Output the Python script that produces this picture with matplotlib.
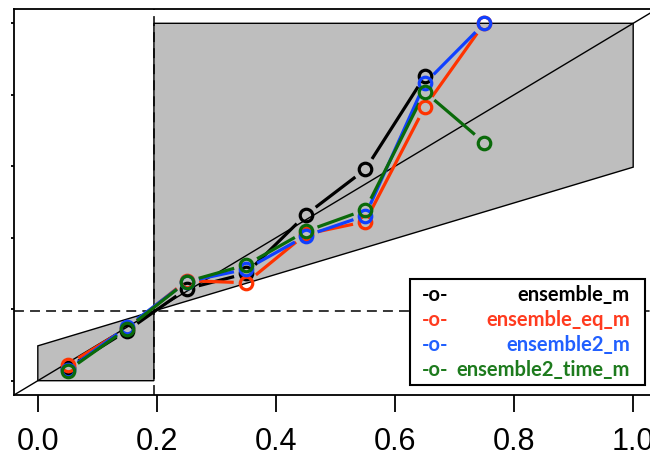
import numpy as np
import matplotlib
matplotlib.use("Agg")
import matplotlib.pyplot as plt
from matplotlib.patches import Polygon, Rectangle
from matplotlib.lines import Line2D

# ---------------- data ----------------
bins = [0.05, 0.15, 0.25, 0.35, 0.45, 0.55, 0.65, 0.75]
ensemble_m       = [0.036, 0.140, 0.257, 0.300, 0.464, 0.591, 0.852, np.nan]
ensemble_eq_m    = [0.045, 0.147, 0.280, 0.274, 0.410, 0.445, 0.766, 1.000]
ensemble2_m      = [0.030, 0.151, 0.277, 0.312, 0.405, 0.462, 0.832, 1.000]
ensemble2_time_m = [0.028, 0.146, 0.277, 0.324, 0.418, 0.478, 0.808, 0.666]
clim = 0.195
xticks = [0.0, 0.2, 0.4, 0.6, 0.8, 1.0]
xticklabels = ["0.0", "0.2", "0.4", "0.6", "0.8", "1.0"]
yticks = [0.0, 0.2, 0.4, 0.6, 0.8, 1.0]
series_names = ["ensemble_m", "ensemble_eq_m", "ensemble2_m", "ensemble2_time_m"]
series_vals = [ensemble_m, ensemble_eq_m, ensemble2_m, ensemble2_time_m]
line_colors = ["#000000", "#FF3300", "#1040FF", "#0A6A0A"]
text_colors = ["#000000", "#FF3B1F", "#2160FF", "#1E7B1E"]

# ---------------- figure ----------------
W, H, DPI = 650, 459, 100
fig = plt.figure(figsize=(W / DPI, H / DPI), dpi=DPI)
L, R, B, T = 14, 657, 395, 9
ax = fig.add_axes([L / W, 1 - B / H, (R - L) / W, (B - T) / H])
ax.set_xlim(-0.04, 1.04)
ax.set_ylim(-0.04, 1.04)

# no-skill polygon
poly = Polygon([(0, 0), (clim, 0), (clim, 1), (1, 1), (1, (1 + clim) / 2), (0, clim / 2)],
               closed=True, facecolor="#BEBEBE", edgecolor="black", lw=1.0, zorder=1)
ax.add_patch(poly)
ax.axline((0, 0), (1, 1), color="black", lw=1.0, zorder=2)
ax.axhline(clim, color="black", lw=1.1, ls=(0, (6.5, 4)), zorder=2)
ax.axvline(clim, color="black", lw=1.1, ls=(0, (6.5, 4)), zorder=2)

# lines with gaps (type = "b")
fig.canvas.draw()
gap = 12.5
for vals, col in zip(series_vals, line_colors):
    x = np.array(bins, dtype=float)
    y = np.array(vals, dtype=float)
    pts = ax.transData.transform(np.column_stack([x, y]))
    for i in range(len(x) - 1):
        if np.isnan(y[i]) or np.isnan(y[i + 1]):
            continue
        p0, p1 = pts[i], pts[i + 1]
        d = p1 - p0
        n = np.hypot(*d)
        if n <= 2 * gap:
            continue
        u = d / n
        a = p0 + u * gap
        b = p1 - u * gap
        da = ax.transData.inverted().transform(np.vstack([a, b]))
        ax.add_line(Line2D(da[:, 0], da[:, 1], color=col, lw=2.3,
                           solid_capstyle="butt", zorder=3))
    ax.plot(x, y, ls="none", marker="o", ms=9, mfc="none", mec=col, mew=2.3, zorder=4)

# axes styling
for s in ax.spines.values():
    s.set_linewidth(1.3)
ax.set_xticks(xticks)
ax.set_xticklabels(xticklabels, fontfamily="Liberation Sans", fontsize=22)
ax.tick_params(axis="x", length=12, width=1.3, pad=11, direction="out")
ax.set_yticks(yticks)
ax.set_yticklabels([])
ax.tick_params(axis="y", length=2.2, width=1.3, direction="out")

# legend (manual)
lx0, lx1, ly0, ly1 = 410, 645, 279, 385
fig.add_artist(Rectangle((lx0 / W, 1 - ly1 / H), (lx1 - lx0) / W, (ly1 - ly0) / H,
                         transform=fig.transFigure, facecolor="white",
                         edgecolor="black", lw=1.5, zorder=10))
rows = [295, 320, 345, 370]
for name, tc, ry in zip(series_names, text_colors, rows):
    fig.text(435 / W, 1 - ry / H, "-o-", color=tc, ha="center", va="center",
             fontfamily="Lato", fontweight="bold", fontsize=14.5, zorder=11)
    fig.text(630 / W, 1 - ry / H, name, color=tc, ha="right", va="center",
             fontfamily="Lato", fontweight="bold", fontsize=14.5, zorder=11)

fig.savefig("out.png", dpi=DPI)
